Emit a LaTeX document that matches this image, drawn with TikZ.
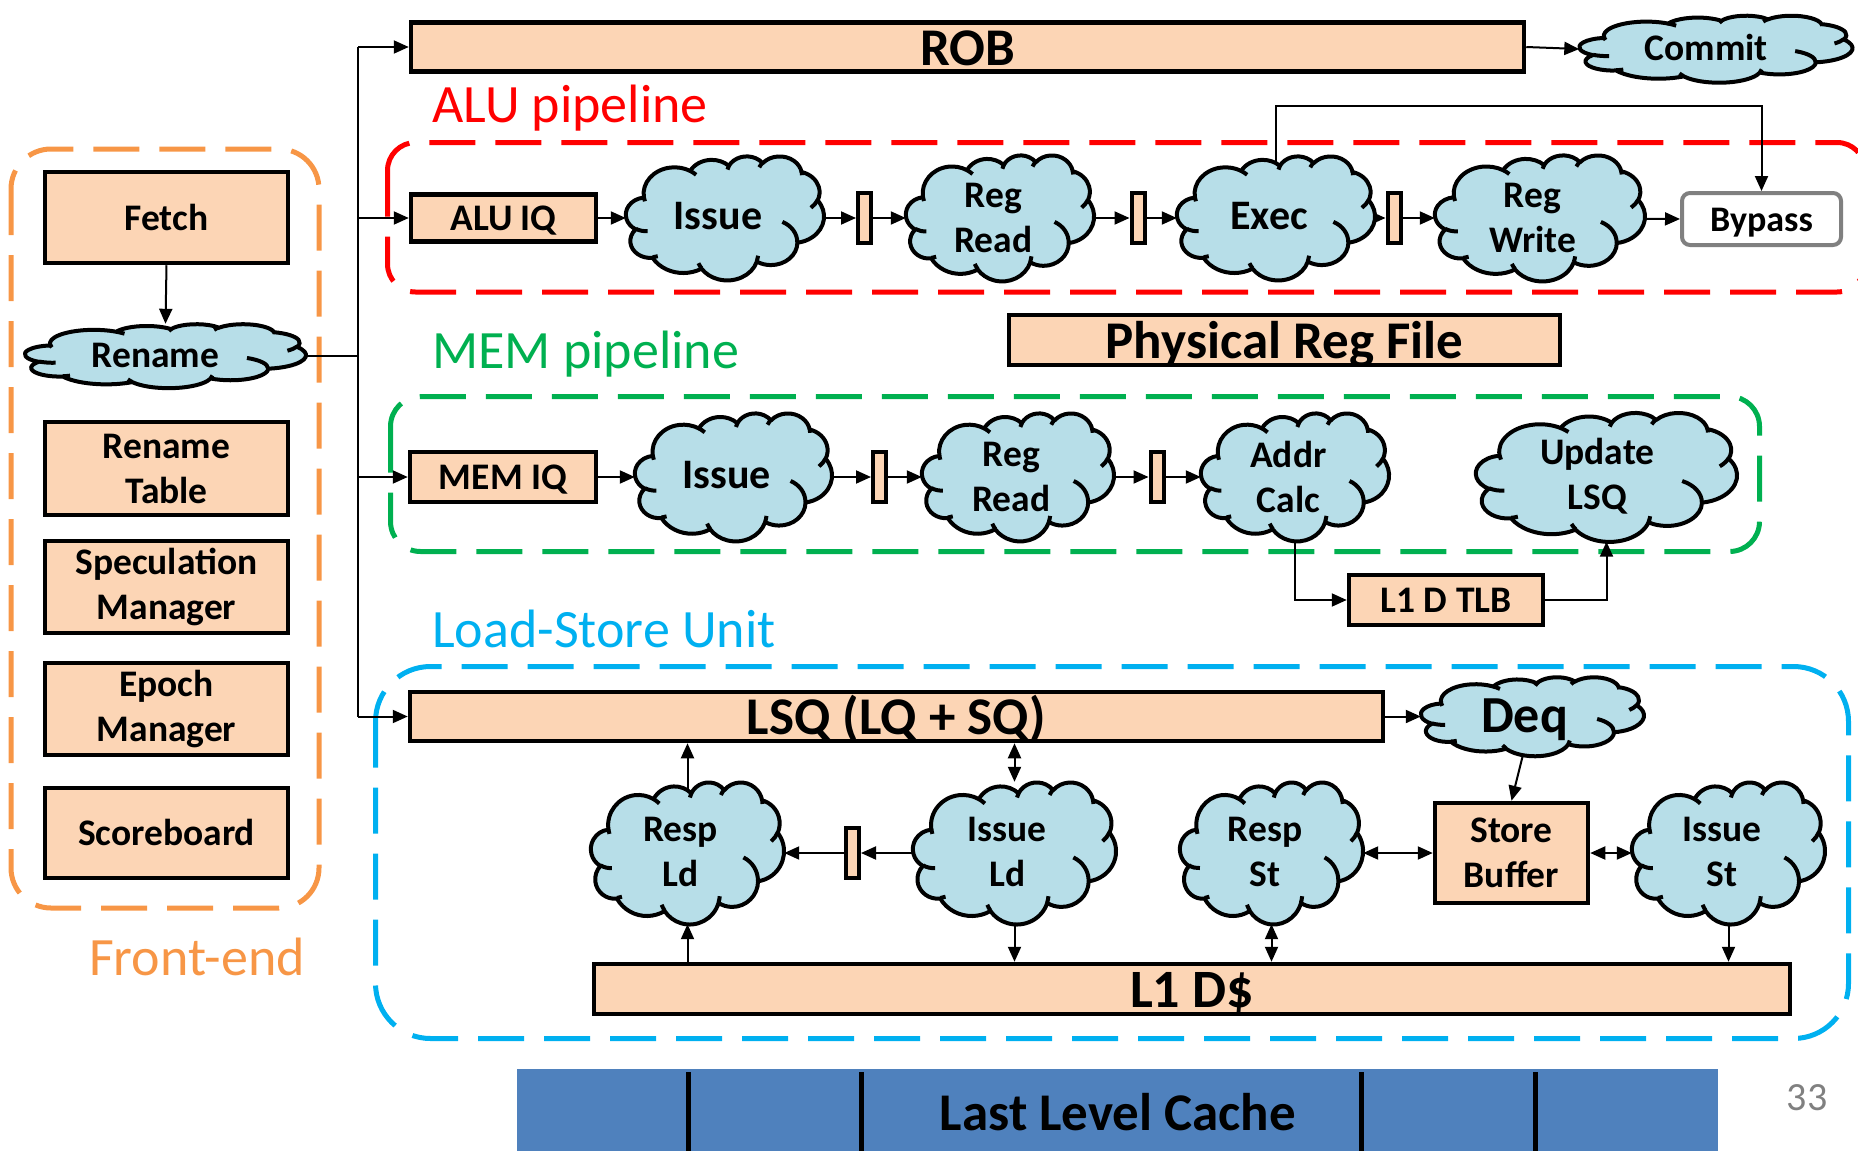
\documentclass[tikz,border=0pt]{standalone}
\usepackage{fontspec}
\setmainfont{Carlito}
\usetikzlibrary{arrows.meta}
\definecolor{peach}{HTML}{FCD5B5}
\definecolor{cloudc}{HTML}{B7DEE8}
\definecolor{redd}{HTML}{FF0000}
\definecolor{greend}{HTML}{00B050}
\definecolor{blued}{HTML}{00B0F0}
\definecolor{orangd}{HTML}{F79646}
\definecolor{llc}{HTML}{4F81BD}
\definecolor{bygray}{HTML}{808080}
\pgfdeclarelayer{frames}
\pgfdeclarelayer{lines}
\pgfsetlayers{frames,lines,main}
% one arc in the manner of an OOXML arcTo (visual angles, degrees)
\newcommand\ppArc[4]{%
  \pgfextra{%
    \pgfmathparse{atan2(#1*sin(#3), #2*cos(#3))}\xdef\ppTa{\pgfmathresult}%
    \pgfmathparse{atan2(#1*sin(#3+#4), #2*cos(#3+#4))}\xdef\ppTb{\pgfmathresult}%
    \pgfmathparse{\ppTa + mod(\ppTb - \ppTa + 720, 360)}\xdef\ppTb{\pgfmathresult}%
  }
  arc[start angle=\ppTa, end angle=\ppTb, x radius=#1, y radius=#2]}
% cloud drawn in a 4320 x 4320 box scaled to W x H, centred at (cx,cy)
\newcommand\ppCloud[4]{%
  \pgfmathsetmacro\ppx{#1-#3/2}\pgfmathsetmacro\ppy{#2-#4/2}%
  \pgfmathsetmacro\ppsx{#3/4320}\pgfmathsetmacro\ppsy{#4/4320}%
  \begin{scope}[shift={(\ppx,\ppy)}, x=\ppsx pt, y=-\ppsy pt]
    \filldraw[cloudline, fill=cloudc] (390,1437)
      \ppArc{675.3}{919.0}{-190.4875}{123.7805}
      \ppArc{533.3}{726.7}{-144.1024}{89.9452}
      \ppArc{436.5}{594.5}{-145.8079}{99.7230}
      \ppArc{485.7}{659.5}{-130.9861}{117.2417}
      \ppArc{533.3}{727.3}{-78.7089}{109.0269}
      \ppArc{677.5}{922.0}{-46.2673}{130.2690}
      \ppArc{578.5}{786.7}{0.6250}{114.0333}
      \ppArc{675.2}{921.5}{22.4516}{115.1726}
      \ppArc{772.0}{1054.3}{66.2426}{75.7110}
      \ppArc{436.0}{591.8}{-274.9421}{146.7356}
      \ppArc{434.5}{594.5}{-246.8285}{152.5189} -- cycle;
    \draw[cloudline]
      (469.3,2617.7) \ppArc{434.5}{594.5}{86.7420}{26.4295}
      (692.8,3489.9) \ppArc{436.0}{591.8}{73.6105}{11.4475}
      (1647.8,3909.0) \ppArc{675.2}{921.5}{137.6242}{14.0811}
      (2882.7,3475.1) \ppArc{675.2}{921.5}{6.4533}{15.9984}
      (3412.9,2295.4) \ppArc{578.5}{786.7}{-70.2924}{70.9174}
      (4179.8,1535.4) \ppArc{533.3}{727.3}{30.3180}{27.7515}
      (3832.4,542.6) \ppArc{485.7}{659.5}{-13.7443}{14.8589}
      (2907.8,395.2) \ppArc{485.7}{659.5}{-149.1815}{18.1954}
      (2214.1,472.0) \ppArc{436.5}{594.5}{-163.4943}{17.6864}
      (1400.0,519.2) \ppArc{675.3}{919.0}{-66.7070}{12.3194}
      (412.7,1578.9) \ppArc{675.3}{919.0}{157.6544}{11.8582};
  \end{scope}}
% named cloud: name, cx, cy, W, H, text-node options, text
\newcommand\cloudnode[7]{%
  \ppCloud{#2}{#3}{#4}{#5}%
  \node[inner sep=0pt, minimum width=#4, minimum height=#5] (#1) at (#2,#3) {};
  \node[inner sep=0pt, align=center, #6] (#1-t) at ({#2-0.0356*#4},{#3-0.0232*#5}) {#7};}
\begin{document}
\begin{tikzpicture}[x=1pt,y=-1pt,
  cloudline/.style={line width=4pt, line join=round},
  box/.style={draw, line width=4.5pt, fill=peach, inner sep=0pt, align=center, font=\bfseries\fontsize{37.5}{45}\selectfont},
  one/.style={text height=30pt, text depth=4.5pt},
  bigbox/.style={box, font=\bfseries\fontsize{53}{60}\selectfont, text height=42.4pt, text depth=6.4pt},
  latch/.style={draw, line width=4pt, fill=peach, minimum width=13pt, minimum height=50pt, inner sep=0pt},
  conn/.style={line width=2pt, -{Triangle[length=15pt,width=13pt]}},
  dconn/.style={line width=2pt, {Triangle[length=15pt,width=13pt]}-{Triangle[length=15pt,width=13pt]}},
  grp/.style={line width=5pt, dash pattern=on 46pt off 20pt},
  grplabel/.style={anchor=base west, inner sep=0pt, font=\fontsize{54}{60}\selectfont},
  cl1/.style={font=\bfseries\fontsize{37.5}{45}\selectfont, text height=30pt, text depth=4.5pt},
  cl2/.style={font=\bfseries\fontsize{37.5}{45}\selectfont, yshift=-2.5pt},
  clb/.style={font=\bfseries\fontsize{42}{45}\selectfont, text height=33.6pt, text depth=5pt},
]
\useasboundingbox (0,0) rectangle (1858,1151);
\clip (0,0) rectangle (1858,1151);

% group frames
\begin{pgfonlayer}{frames}
\draw[grp, orangd, rounded corners=40pt] (11,149) rectangle (319,908);
\draw[grp, redd, rounded corners=28pt] (387.5,142.5) rectangle (1865,292);
\draw[grp, greend, rounded corners=30pt] (390.5,396.5) rectangle (1759.5,551.5);
\draw[grp, blued, rounded corners=55pt] (375.5,666.5) rectangle (1848.5,1038.5);
\end{pgfonlayer}

\node[grplabel, text=redd] (lalu) at (432,122) {ALU pipeline};
\node[grplabel, text=greend] (lmem) at (432,368) {MEM pipeline};
\node[grplabel, text=blued] (llsu) at (432,647) {Load-Store Unit};
\node[grplabel, text=orangd] (lfe) at (89,975) {Front-end};

% front-end
\node[box, one, minimum width=243, minimum height=91] (fetch) at (166.5,217.5) {Fetch};
\cloudnode{rename}{165.5}{356}{281}{64}{cl1}{Rename}
\node[box, minimum width=243, minimum height=93] (rt) at (166.5,468.5) {Rename\\Table};
\node[box, minimum width=243, minimum height=92] (spec) at (166.5,587) {Speculation\\Manager};
\node[box, minimum width=243, minimum height=92] (epoch) at (166.5,709) {Epoch\\Manager};
\node[box, one, minimum width=243, minimum height=90] (score) at (166.5,833) {Scoreboard};

% ROB
\node[bigbox, minimum width=1113, minimum height=48] (rob) at (967.5,47) {ROB};
\cloudnode{commit}{1716}{49}{273}{67}{cl1}{Commit}

% ALU pipeline
\node[box, one, minimum width=185, minimum height=47] (aluiq) at (503.5,218) {ALU IQ};
\cloudnode{issA}{725}{218}{198}{124}{clb}{Issue}
\node[latch] (la1) at (864.5,218) {};
\cloudnode{rrA}{1000}{218}{188}{126}{cl2}{Reg\\Read}
\node[latch] (la2) at (1138,218) {};
\cloudnode{exec}{1276}{218}{198}{124}{clb}{Exec}
\node[latch] (la3) at (1394,218) {};
\cloudnode{rw}{1540}{218}{210}{126}{cl2}{Reg\\Write}
\node[draw=bygray, line width=4pt, rounded corners=8pt, fill=white, minimum width=159, minimum height=52, inner sep=0pt, font=\bfseries\fontsize{36}{42}\selectfont, text height=28.8pt, text depth=4.3pt] (byp) at (1761.5,219) {Bypass};
\node[bigbox, minimum width=551, minimum height=50] (prf) at (1284.5,340) {Physical Reg File};

% MEM pipeline
\node[box, one, minimum width=186, minimum height=50] (memiq) at (503,477) {MEM IQ};
\cloudnode{issM}{733.5}{477}{197}{128}{clb}{Issue}
\node[latch] (lm1) at (879.5,477) {};
\cloudnode{rrM}{1018}{477}{192}{128}{cl2}{Reg\\Read}
\node[latch] (lm2) at (1157,477) {};
\cloudnode{addr}{1295}{477}{188}{128}{cl2}{Addr\\Calc}
\cloudnode{upd}{1606.5}{477}{261}{129}{cl2}{Update\\LSQ}
\node[box, one, minimum width=194, minimum height=50] (tlb) at (1446,600) {L1 D TLB};

% LSU
\node[bigbox, minimum width=973, minimum height=49] (lsq) at (896.5,716.5) {LSQ (LQ + SQ)};
\cloudnode{deq}{1532.5}{716.5}{223}{79}{font=\bfseries\fontsize{52}{55}\selectfont, text height=41.6pt, text depth=6.2pt}{Deq}
\cloudnode{respld}{687.5}{853}{193}{142}{cl2}{Resp\\Ld}
\node[latch] (ll) at (852.5,853) {};
\cloudnode{issld}{1014.5}{853}{203}{142}{cl2}{Issue\\Ld}
\cloudnode{respst}{1271.5}{853}{183}{142}{cl2}{Resp\\St}
\node[box, minimum width=153, minimum height=100] (sb) at (1511.5,853) {Store\\Buffer};
\cloudnode{issst}{1728.5}{853}{193}{142}{cl2}{Issue\\St}
\node[box, minimum width=1196, minimum height=50, font=\bfseries\fontsize{54}{60}\selectfont, text height=43.2pt, text depth=6.5pt] (l1d) at (1192,989) {L1 D\$};

% Last level cache
\fill[llc] (517,1069) rectangle (1718,1170);
\foreach \xx in {688,861,1361,1535} \draw[line width=5pt] (\xx,1072) -- (\xx,1170);
\node[inner sep=0pt, anchor=base, font=\bfseries\fontsize{53}{60}\selectfont] (llct) at (1118,1130) {Last Level Cache};
\node[inner sep=0pt, anchor=base, text=bygray, font=\fontsize{40}{48}\selectfont] (pg) at (1807,1110) {33};

% connectors that leave a cloud: drawn from its centre, under it
\begin{pgfonlayer}{lines}
\coordinate (spTop) at (358,47);
\coordinate (spBot) at (358,716.5);
\coordinate (spMid) at (358,356);
\draw[line width=2pt] (spTop) -- (spBot);
\draw[line width=2pt] (rename.center) -- (spMid);
\draw[conn] (issA.center) -- (la1.west);
\draw[conn] (rrA.center) -- (la2.west);
\draw[conn] (exec.center) -- (la3.west);
\draw[conn] (rw.center) -- (byp.west);
\coordinate (bj) at (1500,106);
\draw[conn] (exec.center) |- (bj) -| (byp.north);
\draw[conn] (issM.center) -- (lm1.west);
\draw[conn] (rrM.center) -- (lm2.west);
\draw[conn] (addr.center) |- (tlb.west);
\draw[conn] (deq.center) -- (sb.north);
\draw[conn] (respld.center) -- (respld.center |- lsq.south);
\draw[conn] (issld.center) -- (ll.east);
\draw[conn] (issld.center) -- (issld.center |- l1d.north);
\draw[conn] (issst.center) -- (issst.center |- l1d.north);
\end{pgfonlayer}

% other connectors
\draw[conn] (spTop) -- (rob.west);
\draw[conn] (aluiq.west -| spTop) -- (aluiq.west);
\draw[conn] (memiq.west -| spTop) -- (memiq.west);
\draw[conn] (spBot) -- (lsq.west);
\draw[conn] (fetch.south) -- (rename.north);
\draw[conn] (rob.east) -- (commit.west);
\draw[conn] (aluiq.east) -- (issA.west);
\draw[conn] (la1.east) -- (rrA.west);
\draw[conn] (la2.east) -- (exec.west);
\draw[conn] (la3.east) -- (rw.west);
\draw[conn] (memiq.east) -- (issM.west);
\draw[conn] (lm1.east) -- (rrM.west);
\draw[conn] (lm2.east) -- (addr.west);
\draw[conn] (tlb.east) -| (upd.south);
\draw[conn] (lsq.east) -- (deq.west);
\draw[dconn] (respst.east) -- (sb.west);
\draw[dconn] (sb.east) -- (issst.west);
\draw[conn] (ll.west) -- (respld.east);
\draw[conn] (respld.south |- l1d.north) -- (respld.south);
\draw[dconn] (issld.north |- lsq.south) -- (issld.north);
\draw[dconn] (respst.south) -- (respst.south |- l1d.north);
\end{tikzpicture}
\end{document}
